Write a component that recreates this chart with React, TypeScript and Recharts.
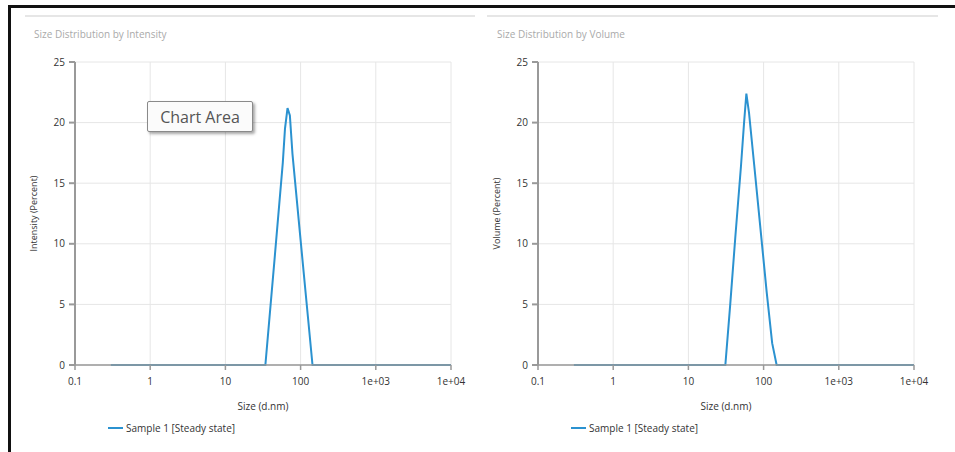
import React from 'react';
import { LineChart, Line, XAxis, YAxis, CartesianGrid, Label } from 'recharts';

// Size (d.nm) and percent values
const intensitySizes = [0.3, 1, 10, 34, 45, 58, 62, 67, 72, 78, 100, 125, 144, 1000, 10000];
const intensityValues = [0, 0, 0, 0, 8.7, 16.7, 19.5, 21.2, 20.6, 17.4, 10.3, 4.0, 0, 0, 0];

const volumeSizes = [0.3, 1, 10, 31, 36, 42, 50, 55, 59, 64, 75, 90, 110, 130, 149, 1000, 10000];
const volumeValues = [0, 0, 0, 0, 5.0, 10.5, 16.4, 20.0, 22.4, 20.8, 16.5, 11.5, 6.0, 1.8, 0, 0, 0];

const xTicks = [0.1, 1, 10, 100, 1000, 10000];
const xTickLabels = ['0.1', '1', '10', '100', '1e+03', '1e+04'];
const yTicks = [0, 5, 10, 15, 20, 25];

const seriesName = 'Sample 1 [Steady state]';
const FONT = '"Open Sans", "Noto Sans", sans-serif';
const LINE_COLOR = '#2b92d0';

const intensityData = intensitySizes.map((s, i) => ({ size: s, value: intensityValues[i] }));
const volumeData = volumeSizes.map((s, i) => ({ size: s, value: volumeValues[i] }));

const fmtX = (v: number) => {
  const i = xTicks.indexOf(v);
  return i >= 0 ? xTickLabels[i] : String(v);
};

function Panel({ data, yLabel }: { data: { size: number; value: number }[]; yLabel: string }) {
  return (
    <LineChart width={480} height={420} data={data} margin={{ top: 62, right: 29, bottom: 5, left: 0 }}>
      <CartesianGrid stroke="#e6e6e6" strokeWidth={1} />
      <XAxis
        dataKey="size"
        type="number"
        scale="log"
        domain={[0.1, 10000]}
        ticks={xTicks}
        tickFormatter={fmtX}
        allowDataOverflow
        height={50}
        stroke="#999"
        strokeWidth={1.5}
        tickSize={5}
        tickMargin={8}
        tick={{ fill: '#333', fontSize: 10, fontFamily: FONT }}
      >
        <Label
          content={({ viewBox }: any) => (
            <text
              x={viewBox.x + viewBox.width / 2}
              y={viewBox.y + 45}
              textAnchor="middle"
              fill="#333"
              fontSize={10}
              fontFamily={FONT}
            >
              Size (d.nm)
            </text>
          )}
        />
      </XAxis>
      <YAxis
        type="number"
        domain={[0, 25]}
        ticks={yTicks}
        width={75}
        stroke="#999"
        strokeWidth={2}
        tickSize={6}
        tickMargin={4}
        tick={{ fill: '#333', fontSize: 10, fontFamily: FONT }}
      >
        <Label
          content={({ viewBox }: any) => {
            const cx = viewBox.x + 37;
            const cy = viewBox.y + viewBox.height / 2;
            return (
              <text
                x={cx}
                y={cy}
                transform={`rotate(-90 ${cx} ${cy})`}
                textAnchor="middle"
                fill="#333"
                fontSize={9}
                fontFamily={FONT}
              >
                {yLabel}
              </text>
            );
          }}
        />
      </YAxis>
      <Line
        type="linear"
        dataKey="value"
        stroke={LINE_COLOR}
        strokeWidth={2}
        dot={false}
        isAnimationActive={false}
      />
    </LineChart>
  );
}

function LegendItem({ left }: { left: number }) {
  return (
    <div
      style={{
        position: 'absolute',
        left,
        top: 421,
        display: 'flex',
        alignItems: 'center',
        fontFamily: FONT,
        fontSize: 10,
        color: '#333',
        whiteSpace: 'nowrap',
      }}
    >
      <svg width={16} height={12} style={{ marginRight: 2 }}>
        <line x1={0} y1={6} x2={15} y2={6} stroke={LINE_COLOR} strokeWidth={2} />
      </svg>
      <span>{seriesName}</span>
    </div>
  );
}

export default function App() {
  return (
    <div
      style={{
        position: 'absolute',
        left: 0,
        top: 0,
        width: 955,
        height: 452,
        background: '#fff',
        overflow: 'hidden',
        fontFamily: FONT,
      }}
    >
      <div
        style={{
          position: 'absolute',
          left: 8,
          top: 5,
          width: 960,
          height: 460,
          borderTop: '3px solid #111',
          borderLeft: '3px solid #111',
        }}
      />
      <div style={{ position: 'absolute', left: 25, top: 15, width: 450, height: 2, background: '#e6e6e6' }} />
      <div style={{ position: 'absolute', left: 487, top: 15, width: 451, height: 2, background: '#e6e6e6' }} />
      <div style={{ position: 'absolute', left: 34, top: 27, fontSize: 10, color: '#aaa', whiteSpace: 'nowrap' }}>
        Size Distribution by Intensity
      </div>
      <div style={{ position: 'absolute', left: 497, top: 27, fontSize: 10, color: '#aaa', whiteSpace: 'nowrap' }}>
        Size Distribution by Volume
      </div>
      <div style={{ position: 'absolute', left: 0, top: 0 }}>
        <Panel data={intensityData} yLabel="Intensity (Percent)" />
      </div>
      <div style={{ position: 'absolute', left: 463, top: 0 }}>
        <Panel data={volumeData} yLabel="Volume (Percent)" />
      </div>
      <LegendItem left={108} />
      <LegendItem left={571} />
      <div
        style={{
          position: 'absolute',
          left: 147,
          top: 101,
          width: 104,
          height: 29,
          border: '1px solid #8a8a8a',
          borderRadius: 2,
          background: '#fbfbfb',
          boxShadow: '2px 2px 3px rgba(0,0,0,0.35)',
          fontSize: 16,
          color: '#555',
          display: 'flex',
          alignItems: 'center',
          justifyContent: 'center',
          whiteSpace: 'nowrap',
        }}
      >
        Chart Area
      </div>
    </div>
  );
}
